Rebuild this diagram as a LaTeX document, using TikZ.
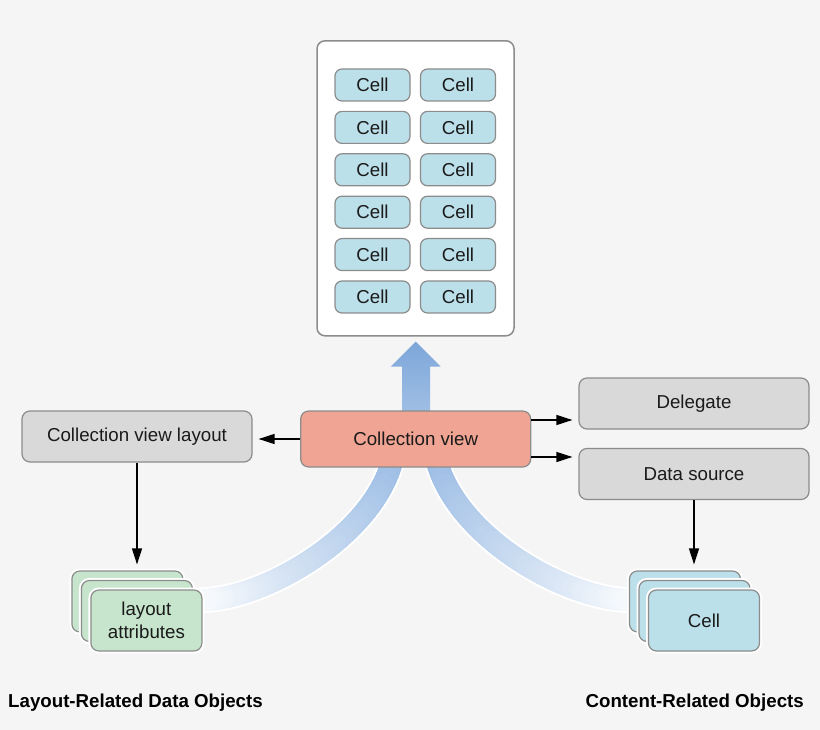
\documentclass[tikz,border=0pt]{standalone}
\usepackage{fontspec}
\setmainfont{Liberation Sans}
\usetikzlibrary{arrows.meta,calc}
\definecolor{bgc}{HTML}{F5F5F5}
\definecolor{edge}{HTML}{8C8C8C}
\definecolor{cellc}{HTML}{BCE0EA}
\definecolor{cvc}{HTML}{F0A493}
\definecolor{greyc}{HTML}{D9D9D9}
\definecolor{greenc}{HTML}{C6E5CC}
\definecolor{bandc}{RGB}{155,188,228}
\definecolor{arrtop}{RGB}{124,166,217}
\definecolor{arrbot}{RGB}{163,193,230}
\definecolor{txt}{HTML}{1A1A1A}
\begin{document}
\begin{tikzpicture}[x=1pt,y=-1pt,
  base/.style={draw=edge, line width=1.2pt, rounded corners=8pt, inner sep=0pt, text=txt,
               font=\fontsize{18.7}{23}\selectfont, align=center},
  cellbox/.style={base, fill=cellc, minimum width=75pt, minimum height=32pt, rounded corners=7pt},
  greybox/.style={base, fill=greyc, minimum width=230pt, minimum height=51pt},
  card/.style={base, minimum width=111pt, minimum height=61pt,
               preaction={draw=white, line width=5pt}},
  arr/.style={line width=1.3pt, draw=black, -{Triangle[length=16pt,width=10pt]}, shorten >=6pt},
  title/.style={font=\bfseries\fontsize{18.7}{22}\selectfont, text=black, inner sep=0pt},
  halo/.style={draw=white, line width=26pt, line cap=round},
  bandseg/.style={line width=22pt, line cap=round}
]
% background
\fill[bgc] (0,0) rectangle (820,730);
\useasboundingbox (0,0) rectangle (820,730);

% top container with cells
\node[base, fill=white, line width=1.5pt, minimum width=197pt, minimum height=295pt] (cont) at (415.5,188.3) {};
\foreach \r in {0,...,5}{
  \foreach \c/\x in {1/372.5,2/458}{
    \node[cellbox] (cell\r\c) at (\x,{85+42.4*\r}) {Cell};
  }
}

% big arrow
\shade[top color=arrtop, bottom color=arrbot]
  (402,420) -- (402,366.7) -- (390.7,366.7) -- (415.7,341.7) -- (440.7,366.7)
  -- (430,366.7) -- (430,420) -- cycle;

% curved bands
\coordinate (L0) at (392,462);
\coordinate (L1) at (370,540);
\coordinate (L2) at (260,600);
\coordinate (L3) at (202,600);
\coordinate (R0) at (437,462);
\coordinate (R1) at (459,540);
\coordinate (R2) at (569,600);
\coordinate (R3) at (630,600);
\draw[halo] (L0) .. controls (L1) and (L2) .. (L3);
\draw[halo] (R0) .. controls (R1) and (R2) .. (R3);
\foreach \i in {0,...,59}{
  \pgfmathsetmacro\ta{\i/60}
  \pgfmathsetmacro\tb{(\i+1)/60}
  \pgfmathtruncatemacro\pc{100-92*\ta}
  \path (L0) .. controls (L1) and (L2) .. (L3) coordinate[pos=\ta] (pa) coordinate[pos=\tb] (pb);
  \draw[bandseg, bandc!\pc!white] (pa) -- (pb);
  \path (R0) .. controls (R1) and (R2) .. (R3) coordinate[pos=\ta] (qa) coordinate[pos=\tb] (qb);
  \draw[bandseg, bandc!\pc!white] (qa) -- (qb);
}

% main boxes
\node[base, fill=cvc, minimum width=230pt, minimum height=56pt] (cv) at (415.7,439) {Collection view};
\node[greybox] (cvl) at (137,436.5) {Collection view layout};
\node[greybox] (del) at (694,403.5) {Delegate};
\node[greybox] (ds) at (694,474) {Data source};

% card stacks
\node[card, fill=greenc] (lb) at (127.4,601.5) {};
\node[card, fill=greenc] (lm) at (136.9,611) {};
\node[card, fill=greenc] (lf) at (146.4,620.5) {layout\\attributes};
\node[card, fill=cellc] (rb) at (685,601.5) {};
\node[card, fill=cellc] (rm) at (694.5,611) {};
\node[card, fill=cellc] (rf) at (704,620.5) {Cell};

% connectors
\draw[arr] (cv.west) -- (cv.west -| cvl.east);
\coordinate (r1) at ([yshift=19pt]cv.east);
\coordinate (r2) at ([yshift=-18pt]cv.east);
\draw[arr] (r1) -- (r1 -| del.west);
\draw[arr] (r2) -- (r2 -| ds.west);
\draw[arr] (cvl.south) -- (cvl.south |- lb.north);
\draw[arr] (ds.south) -- (ds.south |- rb.north);

% titles
\node[title, anchor=west] (tl) at (8,703) {Layout-Related Data Objects};
\node[title, anchor=east] (tr) at (804,703) {Content-Related Objects};
\end{tikzpicture}
\end{document}
